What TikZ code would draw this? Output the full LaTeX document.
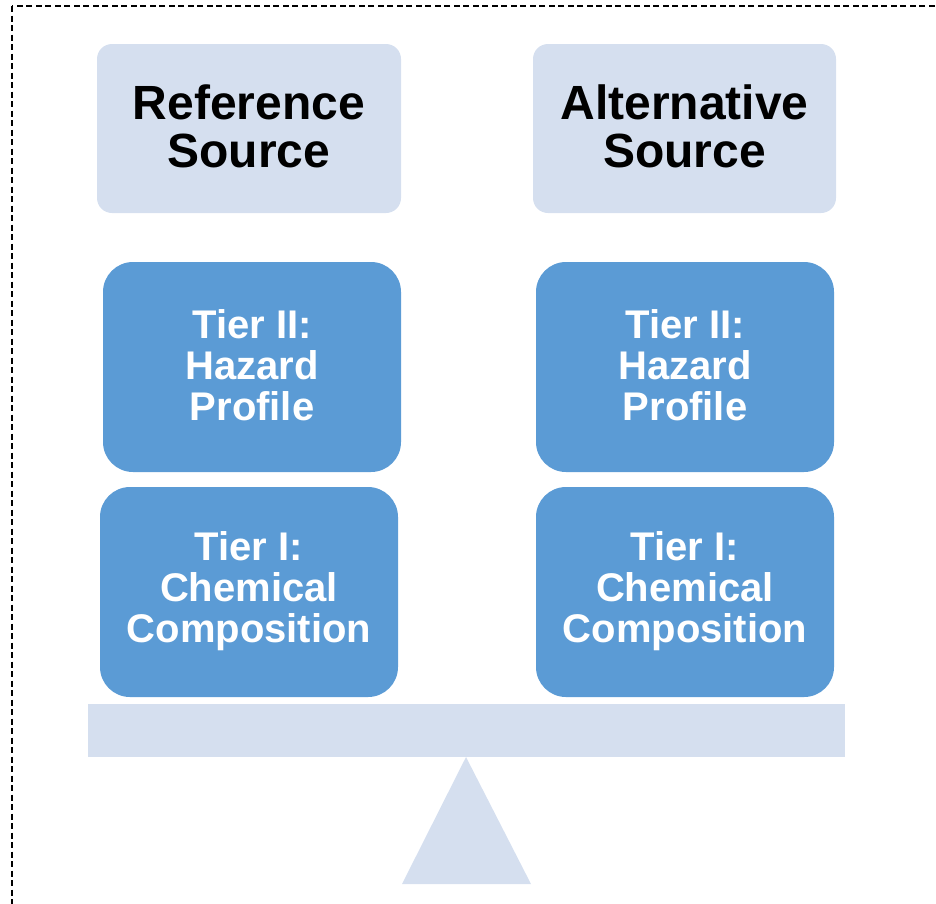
\documentclass[tikz,border=0pt]{standalone}
\usepackage{fontspec}
\setmainfont{Liberation Sans}
\definecolor{lightbox}{HTML}{D5DFEF}
\definecolor{tierblue}{HTML}{5B9BD5}
\tikzset{
  srcbox/.style={fill=lightbox, rounded corners=15pt},
  tierbox/.style={fill=tierblue, rounded corners=30pt},
  srctext/.style={align=center, font=\fontsize{48}{48}\selectfont\bfseries, text=black},
  tiertext/.style={align=center, font=\fontsize{40}{41}\selectfont\bfseries, text=white},
}
\begin{document}
\begin{tikzpicture}[x=1pt,y=-1pt]
\useasboundingbox (0,0) rectangle (936,903);
\begin{scope}
\clip (0,0) rectangle (936,903);
\draw[line width=2pt, dash pattern=on 6pt off 3.5pt] (12,6) rectangle (960,930);
\end{scope}
% source boxes
\fill[srcbox] (97,44) rectangle (401,213);
\fill[srcbox] (533,44) rectangle (836,213);
\node[srctext] (refsrc) at (249,126.5) {Reference\\Source};
\node[srctext] (altsrc) at (684.5,126.5) {Alternative\\Source};
% tier II
\fill[tierbox] (103,262) rectangle (401,472);
\fill[tierbox] (536,262) rectangle (834,472);
\node[tiertext] (reft2) at (252,365) {Tier II:\\Hazard\\Profile};
\node[tiertext] (altt2) at (685,365) {Tier II:\\Hazard\\Profile};
% tier I
\fill[tierbox] (100,487) rectangle (398,697);
\fill[tierbox] (536,487) rectangle (834,697);
\node[tiertext] (reft1) at (249,591) {Tier I:\\Chemical\\Composition};
\node[tiertext] (altt1) at (685,591) {Tier I:\\Chemical\\Composition};
% balance
\fill[lightbox] (88,704) rectangle (845,757);
\fill[lightbox] (466,757) -- (531,884) -- (402,884) -- cycle;
\end{tikzpicture}
\end{document}
